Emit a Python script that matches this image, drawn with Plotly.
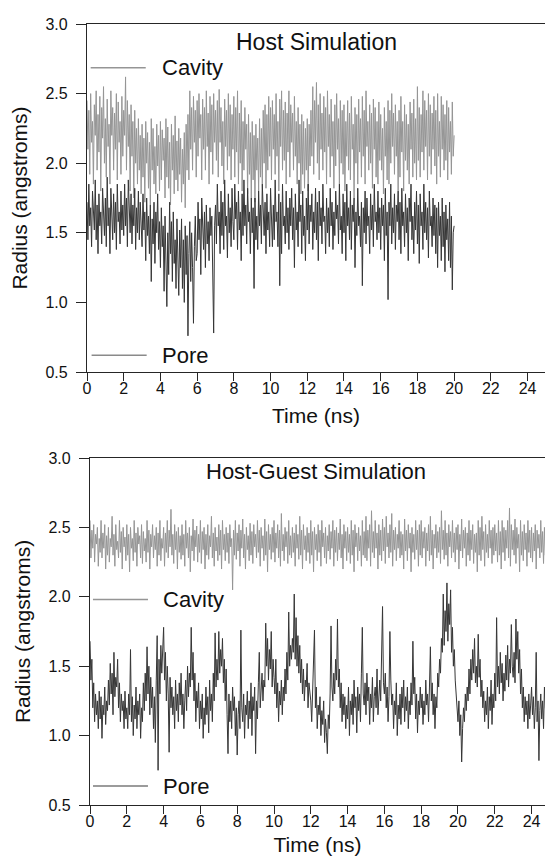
import plotly.graph_objects as go

# Host simulation, sampled every 0.05 ns from 0 to 20 ns (radius in angstroms)
cavity_host = [
    2.45, 2.10, 2.38, 1.92, 2.50, 2.15, 2.30, 1.85, 2.42, 2.20, 2.52, 1.95, 2.35, 2.08, 2.48, 1.80, 2.40, 2.18, 2.55, 2.00,
    2.32, 1.90, 2.46, 2.12, 2.28, 1.85, 2.52, 2.20, 2.40, 1.95, 2.36, 2.10, 2.50, 1.88, 2.44, 2.15, 2.30, 1.92, 2.48, 2.05,
    2.38, 2.20, 2.62, 1.95, 2.45, 2.12, 2.35, 1.80, 2.42, 2.05, 2.30, 1.75, 2.38, 2.00, 2.25, 1.85, 2.32, 1.95, 2.20, 1.78,
    2.28, 1.90, 2.18, 1.72, 2.30, 2.00, 2.22, 1.82, 2.15, 1.70, 2.32, 1.95, 2.25, 1.85, 2.12, 1.78, 2.28, 1.98, 2.20, 1.80,
    2.30, 1.88, 2.24, 2.02, 2.18, 1.75, 2.32, 1.90, 2.26, 1.82, 2.15, 1.70, 2.28, 1.95, 2.20, 1.78, 2.34, 1.88, 2.16, 1.80,
    2.25, 1.92, 2.18, 1.72, 2.10, 1.85, 2.22, 1.68, 2.28, 1.95, 2.35, 1.88, 2.52, 2.10, 2.40, 1.95, 2.48, 2.15, 2.38, 1.90,
    2.45, 2.05, 2.50, 2.18, 2.35, 1.88, 2.46, 2.10, 2.40, 1.95, 2.52, 2.12, 2.36, 1.85, 2.48, 2.08, 2.42, 1.92, 2.50, 2.15,
    2.38, 2.02, 2.45, 1.90, 2.53, 2.15, 2.40, 1.98, 2.30, 1.85, 2.46, 2.12, 2.38, 1.95, 2.50, 2.05, 2.42, 1.88, 2.35, 2.10,
    2.48, 1.90, 2.40, 2.08, 2.52, 1.85, 2.36, 2.00, 2.45, 1.80, 2.30, 1.95, 2.40, 2.10, 2.28, 1.78, 2.35, 1.92, 2.22, 1.75,
    2.30, 1.88, 2.20, 1.72, 2.28, 1.95, 2.18, 1.80, 2.32, 1.90, 2.25, 1.85, 2.38, 2.00, 2.42, 1.82, 2.35, 1.95, 2.48, 2.05,
    2.40, 1.88, 2.45, 2.10, 2.35, 1.92, 2.50, 2.05, 2.30, 1.80, 2.46, 2.12, 2.52, 1.95, 2.38, 2.02, 2.44, 1.85, 2.36, 2.08,
    2.52, 1.90, 2.42, 2.15, 2.36, 1.95, 2.48, 2.05, 2.30, 1.85, 2.40, 2.00, 2.28, 1.78, 2.35, 1.92, 2.30, 1.82, 2.25, 1.95,
    2.32, 1.80, 2.28, 1.98, 2.38, 2.05, 2.55, 1.92, 2.45, 2.15, 2.58, 2.00, 2.42, 1.88, 2.50, 2.10, 2.36, 1.95, 2.48, 2.08,
    2.40, 1.85, 2.52, 2.12, 2.35, 1.90, 2.46, 2.05, 2.30, 1.82, 2.42, 1.98, 2.50, 2.10, 2.32, 1.85, 2.45, 2.00, 2.38, 1.92,
    2.42, 1.80, 2.30, 2.05, 2.45, 1.95, 2.36, 1.88, 2.48, 2.10, 2.28, 1.75, 2.40, 2.00, 2.35, 1.85, 2.46, 2.08, 2.32, 1.90,
    2.48, 2.05, 2.38, 1.85, 2.52, 2.12, 2.30, 1.95, 2.42, 2.00, 2.36, 1.82, 2.46, 2.10, 2.40, 1.90, 2.30, 1.85, 2.44, 2.02,
    2.35, 1.95, 2.25, 1.78, 2.40, 2.05, 2.30, 1.88, 2.45, 1.85, 2.38, 2.00, 2.50, 2.12, 2.36, 1.92, 2.42, 2.05, 2.30, 1.80,
    2.38, 1.90, 2.48, 2.08, 2.30, 1.80, 2.42, 2.02, 2.35, 1.95, 2.28, 1.85, 2.44, 2.10, 2.36, 1.90, 2.46, 2.00, 2.32, 1.88,
    2.55, 2.02, 2.40, 1.90, 2.35, 2.08, 2.52, 1.95, 2.45, 2.12, 2.38, 1.88, 2.50, 2.05, 2.42, 1.92, 2.36, 2.10, 2.48, 1.98,
    2.38, 1.85, 2.50, 2.05, 2.30, 1.90, 2.48, 2.10, 2.42, 1.95, 2.35, 2.02, 2.45, 1.88, 2.40, 2.08, 2.30, 1.92, 2.44, 2.05,
    2.20,
]
pore_host = [
    1.72, 1.45, 1.85, 1.55, 1.68, 1.40, 1.80, 1.60, 1.52, 1.88, 1.45, 1.70, 1.35, 1.78, 1.55, 1.65, 1.42, 1.82, 1.58, 1.48,
    1.75, 1.40, 1.90, 1.55, 1.68, 1.35, 1.82, 1.62, 1.45, 1.78, 1.50, 1.72, 1.38, 1.85, 1.58, 1.65, 1.42, 1.80, 1.52, 1.70,
    1.48, 1.85, 1.55, 1.75, 1.40, 1.88, 1.60, 1.50, 1.78, 1.42, 1.70, 1.55, 1.82, 1.38, 1.68, 1.50, 1.80, 1.45, 1.72, 1.58,
    1.40, 1.78, 1.52, 1.65, 1.30, 1.75, 1.48, 1.62, 1.35, 1.70, 1.15, 1.60, 1.42, 1.72, 1.28, 1.65, 1.50, 1.78, 1.38, 1.58,
    1.25, 1.68, 1.40, 1.55, 1.08, 1.62, 1.30, 0.97, 1.50, 1.20, 1.72, 1.35, 1.58, 1.15, 1.65, 1.28, 1.45, 1.10, 1.60, 1.30,
    1.05, 1.52, 1.25, 1.60, 1.10, 1.45, 1.00, 1.55, 1.20, 1.48, 0.76, 1.35, 1.58, 1.15, 1.50, 1.25, 0.85, 1.40, 1.62, 1.30,
    1.35, 1.72, 1.45, 1.60, 1.20, 1.75, 1.50, 1.38, 1.65, 1.25, 1.70, 1.42, 1.58, 1.30, 1.68, 1.48, 1.62, 1.28, 0.78, 1.55,
    1.70, 1.42, 1.85, 1.55, 1.65, 1.35, 1.80, 1.48, 1.72, 1.38, 1.88, 1.55, 1.62, 1.32, 1.78, 1.50, 1.68, 1.40, 1.82, 1.58,
    1.45, 1.85, 1.60, 1.72, 1.38, 1.80, 1.52, 1.65, 1.30, 1.78, 1.48, 1.88, 1.55, 1.70, 1.42, 1.82, 1.58, 1.65, 1.35, 1.75,
    1.50, 1.68, 1.10, 1.75, 1.45, 1.62, 1.38, 1.80, 1.55, 1.70, 1.42, 1.85, 1.60, 1.48, 1.72, 1.35, 1.78, 1.52, 1.65, 1.40,
    1.82, 1.55, 1.40, 1.70, 1.45, 1.88, 1.58, 1.65, 1.40, 1.78, 1.12, 1.72, 1.35, 1.85, 1.55, 1.62, 1.42, 1.80, 1.50, 1.68,
    1.38, 1.75, 1.55, 1.82, 1.45, 1.68, 1.25, 1.78, 1.52, 1.65, 1.40, 1.88, 1.58, 1.70, 1.35, 1.80, 1.48, 1.62, 1.30, 1.75,
    1.52, 1.85, 1.42, 1.70, 1.58, 1.78, 1.38, 1.65, 1.50, 1.82, 1.45, 1.72, 1.30, 1.80, 1.55, 1.68, 1.42, 1.85, 1.58, 1.62,
    1.35, 1.75, 1.50, 1.68, 1.40, 1.82, 1.55, 1.72, 1.38, 1.65, 1.48, 1.80, 1.60, 1.70, 1.42, 1.85, 1.52, 1.62, 1.35, 1.78,
    1.50, 1.72, 1.30, 1.85, 1.55, 1.68, 1.45, 1.80, 1.38, 1.70, 1.58, 1.75, 1.25, 1.65, 1.48, 1.82, 1.55, 1.62, 1.40, 1.72,
    1.12, 1.68, 1.50, 1.80, 1.42, 1.75, 1.55, 1.62, 1.35, 1.78, 1.52, 1.70, 1.40, 1.85, 1.58, 1.65, 1.45, 1.80, 1.50, 1.68,
    1.38, 1.75, 1.55, 1.70, 1.30, 1.82, 1.48, 1.65, 1.02, 1.72, 1.55, 1.85, 1.42, 1.68, 1.50, 1.78, 1.38, 1.70, 1.58, 1.80,
    1.45, 1.72, 1.35, 1.82, 1.55, 1.65, 1.40, 1.78, 1.50, 1.68, 1.30, 1.75, 1.58, 1.85, 1.45, 1.62, 1.35, 1.72, 1.52, 1.80,
    1.42, 1.70, 1.28, 1.78, 1.55, 1.65, 1.38, 1.85, 1.50, 1.72, 1.45, 1.68, 1.32, 1.80, 1.55, 1.62, 1.40, 1.75, 1.48, 1.70,
    1.35, 1.68, 1.25, 1.72, 1.48, 1.62, 1.30, 1.75, 1.40, 1.65, 1.22, 1.70, 1.45, 1.60, 1.30, 1.72, 1.25, 1.62, 1.09, 1.50,
    1.55,
]

# Host-guest simulation, sampled every 0.05 ns from 0 to 24.95 ns
cavity_guest = [
    2.55, 2.28, 2.48, 2.35, 2.52, 2.25, 2.45, 2.38, 2.50, 2.22, 2.42, 2.32, 2.55, 2.28, 2.46, 2.35, 2.52, 2.20, 2.44, 2.30,
    2.50, 2.25, 2.42, 2.36, 2.58, 2.30, 2.45, 2.22, 2.52, 2.34, 2.40, 2.28, 2.55, 2.32, 2.47, 2.20, 2.50, 2.36, 2.43, 2.26,
    2.52, 2.30, 2.45, 2.18, 2.50, 2.35, 2.42, 2.26, 2.55, 2.32, 2.46, 2.22, 2.50, 2.38, 2.44, 2.28, 2.52, 2.24, 2.47, 2.33,
    2.42, 2.25, 2.55, 2.32, 2.48, 2.20, 2.45, 2.36, 2.52, 2.28, 2.44, 2.34, 2.50, 2.22, 2.46, 2.30, 2.55, 2.26, 2.42, 2.35,
    2.50, 2.22, 2.46, 2.32, 2.55, 2.28, 2.48, 2.36, 2.63, 2.30, 2.45, 2.24, 2.52, 2.34, 2.47, 2.20, 2.50, 2.32, 2.44, 2.27,
    2.52, 2.30, 2.45, 2.22, 2.55, 2.35, 2.46, 2.28, 2.50, 2.18, 2.44, 2.33, 2.56, 2.26, 2.48, 2.36, 2.51, 2.25, 2.45, 2.32,
    2.55, 2.24, 2.47, 2.34, 2.50, 2.20, 2.45, 2.30, 2.52, 2.27, 2.44, 2.36, 2.58, 2.28, 2.46, 2.22, 2.50, 2.33, 2.43, 2.26,
    2.52, 2.30, 2.48, 2.20, 2.55, 2.34, 2.45, 2.26, 2.50, 2.32, 2.46, 2.24, 2.52, 2.36, 2.42, 2.05, 2.48, 2.30, 2.55, 2.27,
    2.46, 2.33, 2.52, 2.22, 2.48, 2.35, 2.56, 2.28, 2.45, 2.20, 2.50, 2.34, 2.44, 2.26, 2.53, 2.30, 2.47, 2.24, 2.52, 2.36,
    2.45, 2.28, 2.55, 2.32, 2.48, 2.22, 2.50, 2.35, 2.44, 2.26, 2.56, 2.30, 2.47, 2.18, 2.52, 2.34, 2.45, 2.27, 2.50, 2.32,
    2.55, 2.25, 2.46, 2.35, 2.52, 2.28, 2.48, 2.22, 2.60, 2.33, 2.45, 2.26, 2.50, 2.36, 2.47, 2.24, 2.55, 2.30, 2.44, 2.28,
    2.50, 2.32, 2.46, 2.22, 2.52, 2.35, 2.45, 2.27, 2.58, 2.30, 2.48, 2.20, 2.52, 2.34, 2.44, 2.26, 2.50, 2.32, 2.46, 2.24,
    2.55, 2.30, 2.47, 2.18, 2.50, 2.34, 2.45, 2.26, 2.52, 2.32, 2.48, 2.22, 2.55, 2.36, 2.46, 2.28, 2.50, 2.24, 2.44, 2.33,
    2.52, 2.27, 2.47, 2.35, 2.55, 2.22, 2.48, 2.32, 2.50, 2.26, 2.46, 2.34, 2.56, 2.28, 2.45, 2.20, 2.52, 2.35, 2.47, 2.26,
    2.50, 2.32, 2.45, 2.24, 2.55, 2.30, 2.48, 2.18, 2.52, 2.36, 2.46, 2.26, 2.50, 2.33, 2.44, 2.22, 2.55, 2.30, 2.47, 2.28,
    2.58, 2.26, 2.48, 2.35, 2.52, 2.22, 2.62, 2.32, 2.47, 2.28, 2.55, 2.35, 2.46, 2.20, 2.52, 2.30, 2.48, 2.26, 2.56, 2.33,
    2.50, 2.24, 2.58, 2.36, 2.46, 2.28, 2.52, 2.32, 2.60, 2.22, 2.48, 2.34, 2.50, 2.26, 2.45, 2.35, 2.55, 2.28, 2.47, 2.30,
    2.45, 2.20, 2.56, 2.33, 2.48, 2.26, 2.52, 2.35, 2.46, 2.18, 2.50, 2.32, 2.45, 2.27, 2.55, 2.34, 2.48, 2.22, 2.52, 2.30,
    2.55, 2.28, 2.47, 2.35, 2.50, 2.22, 2.46, 2.33, 2.52, 2.26, 2.58, 2.30, 2.48, 2.20, 2.45, 2.35, 2.52, 2.28, 2.47, 2.32,
    2.50, 2.24, 2.62, 2.34, 2.48, 2.27, 2.55, 2.30, 2.46, 2.22, 2.52, 2.36, 2.47, 2.28, 2.55, 2.32, 2.46, 2.25, 2.50, 2.34,
    2.52, 2.20, 2.45, 2.33, 2.56, 2.28, 2.48, 2.35, 2.50, 2.22, 2.46, 2.30, 2.55, 2.26, 2.48, 2.34, 2.52, 2.24, 2.45, 2.32,
    2.46, 2.18, 2.55, 2.30, 2.50, 2.26, 2.58, 2.34, 2.47, 2.22, 2.52, 2.32, 2.45, 2.28, 2.55, 2.35, 2.48, 2.24, 2.50, 2.30,
    2.52, 2.33, 2.46, 2.25, 2.55, 2.30, 2.47, 2.20, 2.55, 2.32, 2.50, 2.26, 2.48, 2.35, 2.55, 2.28, 2.64, 2.22, 2.52, 2.34,
    2.48, 2.30, 2.56, 2.24, 2.50, 2.35, 2.45, 2.18, 2.55, 2.30, 2.47, 2.26, 2.52, 2.34, 2.46, 2.22, 2.55, 2.32, 2.48, 2.28,
    2.50, 2.25, 2.46, 2.33, 2.52, 2.20, 2.48, 2.35, 2.45, 2.28, 2.55, 2.32, 2.47, 2.24, 2.50, 2.30, 2.46, 2.27, 2.52, 2.33,
]
pore_guest = [
    1.68, 1.40, 1.55, 1.20, 1.38, 1.10, 1.30, 1.15, 1.25, 1.05, 1.32, 1.12, 1.28, 0.98, 1.22, 1.15, 1.35, 1.08, 1.25, 1.18,
    1.40, 1.22, 1.52, 1.30, 1.45, 1.15, 1.60, 1.28, 1.42, 1.35, 1.55, 1.20, 1.38, 1.10, 1.30, 1.18, 1.25, 1.05, 1.32, 1.12,
    1.20, 1.05, 1.30, 1.15, 1.62, 1.10, 1.28, 1.00, 1.22, 1.12, 1.35, 1.05, 1.25, 1.15, 1.30, 0.98, 1.20, 1.10, 1.38, 1.18,
    1.45, 1.25, 1.64, 1.30, 1.50, 1.15, 1.42, 1.20, 1.35, 1.05, 1.28, 0.95, 1.40, 1.72, 0.75, 1.55, 1.30, 1.65, 1.45, 1.70,
    1.78, 1.40, 1.60, 1.25, 1.50, 1.30, 0.88, 1.42, 1.20, 1.35, 1.15, 1.28, 1.05, 1.40, 1.18, 1.30, 1.10, 1.38, 1.22, 1.45,
    1.15, 1.30, 1.05, 1.25, 1.40, 1.18, 1.50, 1.28, 1.45, 1.35, 1.78, 1.40, 1.60, 1.25, 1.45, 1.10, 1.32, 1.20, 1.38, 1.05,
    1.25, 1.12, 1.30, 0.98, 1.20, 1.08, 1.35, 1.15, 1.28, 1.02, 1.40, 1.18, 1.30, 1.10, 1.45, 1.25, 1.74, 1.35, 1.55, 1.40,
    1.75, 1.45, 1.62, 1.50, 1.70, 1.38, 1.55, 1.25, 1.48, 1.15, 0.87, 1.30, 1.10, 1.25, 1.05, 1.35, 1.18, 1.28, 1.00, 1.20,
    0.86, 1.15, 1.25, 1.05, 1.76, 1.20, 1.10, 1.30, 0.98, 1.22, 1.15, 1.32, 1.05, 1.25, 1.12, 1.38, 1.00, 1.28, 1.18, 1.35,
    0.87, 1.25, 1.12, 1.38, 1.60, 1.20, 1.30, 1.45, 1.25, 1.40, 1.35, 1.81, 1.50, 1.70, 1.40, 1.62, 1.48, 1.75, 1.35, 1.55,
    1.42, 1.30, 1.55, 1.20, 1.38, 1.10, 1.32, 1.22, 1.40, 1.15, 1.35, 1.25, 1.48, 1.30, 1.60, 1.40, 1.89, 1.50, 1.65, 1.55,
    1.70, 1.60, 2.02, 1.55, 1.85, 1.50, 1.72, 1.45, 1.65, 1.38, 1.55, 1.30, 1.48, 1.25, 1.40, 1.35, 1.52, 1.20, 1.38, 1.30,
    1.25, 1.10, 1.30, 1.45, 1.76, 1.20, 1.35, 1.05, 1.22, 1.15, 1.28, 1.00, 1.18, 1.08, 1.25, 0.95, 1.12, 1.02, 0.87, 1.15,
    1.05, 1.30, 1.79, 1.35, 1.25, 1.45, 1.30, 1.55, 1.40, 1.84, 1.35, 1.48, 1.20, 1.38, 1.10, 1.30, 1.15, 1.28, 1.05, 1.22,
    1.12, 1.35, 1.00, 1.25, 1.15, 1.30, 1.08, 1.40, 1.20, 1.28, 1.02, 1.35, 1.18, 1.30, 1.10, 1.45, 1.78, 1.30, 1.22, 1.38,
    1.15, 1.45, 1.25, 1.35, 1.08, 1.30, 1.20, 1.42, 1.10, 1.28, 1.35, 1.20, 1.48, 1.15, 1.30, 1.40, 1.25, 1.55, 1.93, 1.38,
    1.30, 1.45, 1.20, 1.35, 1.10, 1.28, 1.75, 1.40, 1.22, 1.30, 1.05, 1.25, 1.15, 1.38, 1.00, 1.22, 1.12, 1.30, 1.08, 1.35,
    1.20, 1.40, 1.10, 1.28, 1.18, 1.35, 1.05, 1.25, 1.15, 1.38, 1.22, 1.68, 1.30, 1.42, 1.12, 1.30, 1.02, 1.25, 1.15, 1.35,
    1.20, 1.30, 1.08, 1.25, 1.15, 1.40, 1.22, 1.30, 1.10, 1.35, 1.64, 1.25, 1.38, 1.15, 1.30, 1.05, 1.28, 1.20, 1.45, 1.35,
    1.55, 1.45, 1.70, 1.60, 2.02, 1.65, 1.90, 1.75, 2.10, 1.68, 1.95, 1.80, 2.05, 1.60, 1.78, 1.50, 1.62, 1.40, 1.30, 1.20,
    1.10, 1.25, 1.00, 1.15, 0.81, 1.05, 1.20, 1.10, 1.30, 1.18, 1.35, 1.25, 1.48, 1.30, 1.55, 1.40, 1.62, 1.45, 1.70, 1.38,
    1.50, 1.35, 1.73, 1.42, 1.55, 1.28, 1.40, 1.20, 1.32, 1.10, 1.25, 1.15, 1.35, 1.05, 1.28, 1.18, 1.40, 1.08, 1.30, 1.20,
    1.45, 1.25, 1.85, 1.35, 1.50, 1.30, 1.60, 1.38, 1.52, 1.25, 1.45, 1.32, 1.58, 1.40, 1.65, 1.35, 1.55, 1.45, 1.80, 1.50,
    1.42, 1.60, 1.38, 1.84, 1.55, 1.75, 1.45, 1.62, 1.30, 1.48, 1.20, 1.35, 1.10, 1.28, 1.15, 1.25, 1.05, 1.30, 1.12, 1.22,
    1.35, 1.15, 1.28, 1.05, 1.20, 1.60, 1.10, 1.25, 0.82, 1.18, 1.30, 1.12, 1.25, 1.05, 1.35, 1.20, 1.15, 1.28, 1.10, 1.22,
]

DT = 0.05  # ns between samples
time_host = [round(i * DT, 2) for i in range(len(cavity_host))]
time_guest = [round(i * DT, 2) for i in range(len(cavity_guest))]

x_ticks = [0, 2, 4, 6, 8, 10, 12, 14, 16, 18, 20, 22, 24]
y_ticks = [0.5, 1.0, 1.5, 2.0, 2.5, 3.0]

FONT = "Liberation Sans, Arial, Helvetica, sans-serif"
CAVITY_COLOR = "#959595"
PORE_COLOR = "#363636"
AXIS_COLOR = "#262626"

fig = go.Figure()

fig.add_trace(go.Scatter(x=time_host, y=cavity_host, mode="lines", name="Cavity",
                         line=dict(color=CAVITY_COLOR, width=1), xaxis="x", yaxis="y"))
fig.add_trace(go.Scatter(x=time_host, y=pore_host, mode="lines", name="Pore",
                         line=dict(color=PORE_COLOR, width=1), xaxis="x", yaxis="y"))
fig.add_trace(go.Scatter(x=time_guest, y=cavity_guest, mode="lines", name="Cavity",
                         line=dict(color=CAVITY_COLOR, width=1), xaxis="x2", yaxis="y2"))
fig.add_trace(go.Scatter(x=time_guest, y=pore_guest, mode="lines", name="Pore",
                         line=dict(color=PORE_COLOR, width=1), xaxis="x2", yaxis="y2"))

xaxis_style = dict(
    showline=True, linecolor=AXIS_COLOR, linewidth=1.3, mirror=True,
    ticks="outside", ticklen=8, tickwidth=1.3, tickcolor=AXIS_COLOR,
    tickvals=x_ticks, showgrid=False, zeroline=False, automargin=False,
    ticklabelstandoff=-6,
    tickfont=dict(size=16, color="#111"),
    title=dict(text="Time (ns)", font=dict(size=21, color="#111"), standoff=11),
)
yaxis_style = dict(
    showline=True, linecolor=AXIS_COLOR, linewidth=1.3,
    ticks="outside", ticklen=10, tickwidth=1.3, tickcolor=AXIS_COLOR,
    tickvals=y_ticks, tickformat=".1f", range=[0.5, 3.0],
    showgrid=False, zeroline=False, automargin=False,
    ticklabelstandoff=5,
    tickfont=dict(size=16, color="#111"),
    title=dict(text="Radius (angstroms)", font=dict(size=21, color="#111"), standoff=12),
)

fig.update_layout(
    width=545, height=856,
    margin=dict(l=87, r=0, t=24, b=51),
    paper_bgcolor="white", plot_bgcolor="white",
    font=dict(family=FONT, color="#111"),
    showlegend=False,
    xaxis=dict(xaxis_style, domain=[0, 1], range=[0, 24.95], anchor="y"),
    yaxis=dict(yaxis_style, domain=[0.5544, 1], anchor="x"),
    xaxis2=dict(xaxis_style, domain=[0.0066, 1], range=[0, 24.73], anchor="y2"),
    yaxis2=dict(yaxis_style, domain=[0, 0.4443], anchor="x2"),
)

# panel titles and hand-drawn legend labels, placed in data coordinates
labels = [
    ("x", "y", 12.5, 2.87, "Host Simulation", "center", 23),
    ("x", "y", 3.95, 2.685, "Cavity", "left", 22),
    ("x", "y", 3.95, 0.62, "Pore", "left", 22),
    ("x2", "y2", 12.3, 2.90, "Host-Guest Simulation", "center", 22),
    ("x2", "y2", 3.85, 1.98, "Cavity", "left", 22),
    ("x2", "y2", 3.85, 0.636, "Pore", "left", 22),
]
for xr, yr, lx, ly, text, anchor, size in labels:
    fig.add_annotation(x=lx, y=ly, xref=xr, yref=yr, text=text, showarrow=False,
                       xanchor=anchor, yanchor="middle",
                       font=dict(family=FONT, size=size, color="#111"))

legend_lines = [
    ("x", "y", 0.2, 3.2, 2.685, CAVITY_COLOR),
    ("x", "y", 0.25, 3.25, 0.62, "#8a8a8a"),
    ("x2", "y2", 0.16, 3.15, 1.98, CAVITY_COLOR),
    ("x2", "y2", 0.16, 3.15, 0.636, "#7a7a7a"),
]
for xr, yr, x0, x1, ly, color in legend_lines:
    fig.add_shape(type="line", xref=xr, yref=yr, x0=x0, x1=x1, y0=ly, y1=ly,
                  line=dict(color=color, width=1.5))

# the page body has a default 8px margin; drop it so the figure fills the window
fig.write_html("out.html", config={"displayModeBar": False},
               post_script="document.body.style.margin = '0';")
